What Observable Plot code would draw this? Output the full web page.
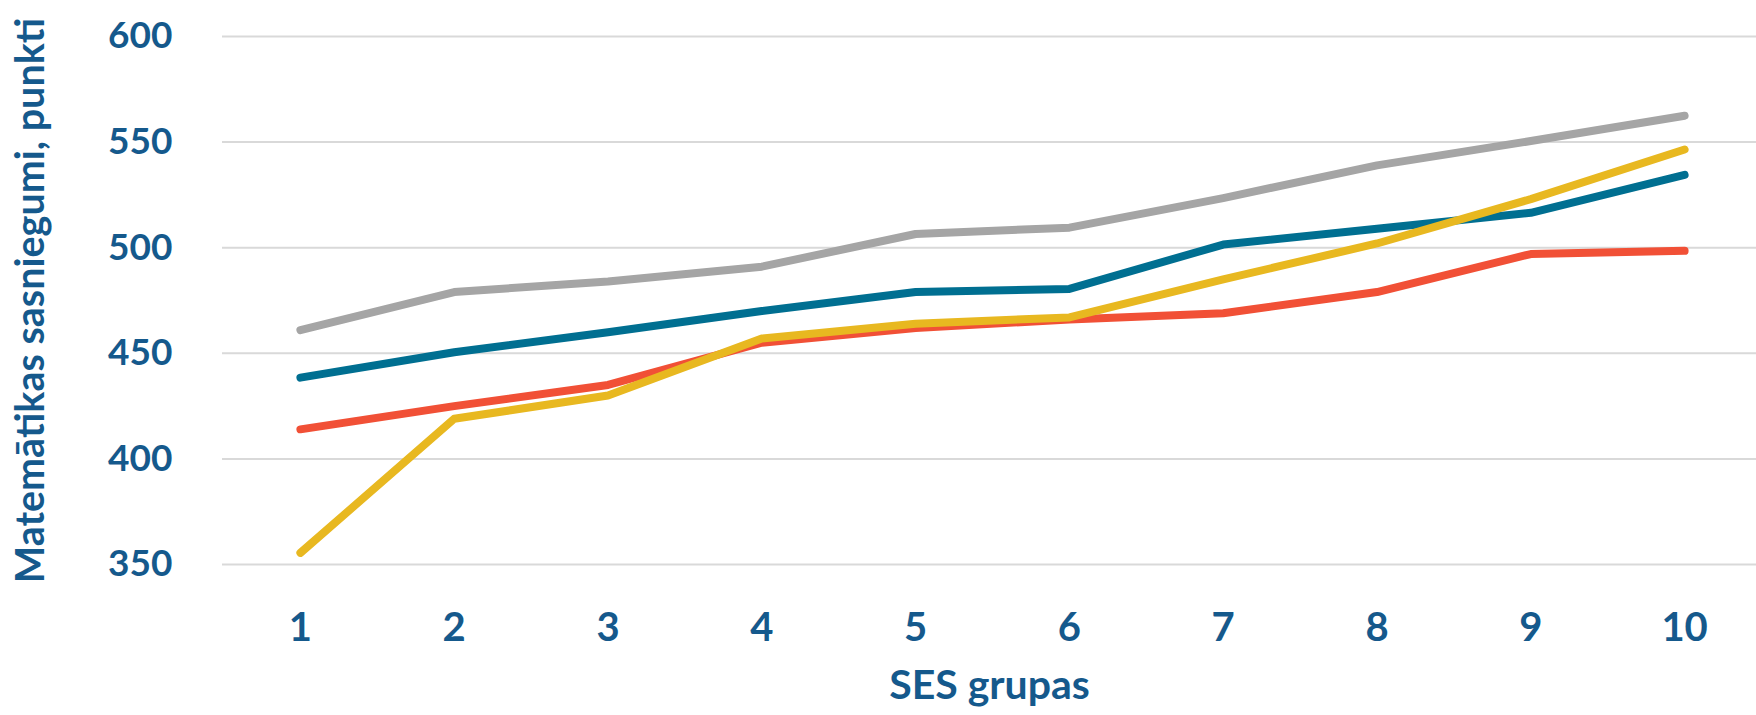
<!DOCTYPE html>
<html>
<head>
<meta charset="utf-8">
<script src="https://cdn.jsdelivr.net/npm/d3@7"></script>
<script src="https://cdn.jsdelivr.net/npm/@observablehq/plot@0.6"></script>
<style>
  html, body { margin: 0; padding: 0; background: #ffffff; }
  #chart { width: 1756px; height: 715px; overflow: hidden; }
</style>
</head>
<body>
<div id="chart"></div>
<script>
// ---- Data ----
const groups = [1, 2, 3, 4, 5, 6, 7, 8, 9, 10];
const yTicks = [350, 400, 450, 500, 550, 600];
const seriesNames = ["Sērija 1", "Sērija 2", "Sērija 3", "Sērija 4"];
const seriesColors = ["#a5a5a5", "#006f91", "#f15036", "#e8b820"];
const grayValues   = [461, 479, 484, 491, 506.5, 509.5, 523.5, 539, 550.5, 562.5];
const blueValues   = [438.5, 450.5, 460, 470, 479, 480.5, 501.5, 509, 516.5, 534.5];
const redValues    = [414, 425, 435, 455, 462, 466, 469, 479, 497, 498.5];
const yellowValues = [355.5, 419, 430, 457, 464, 467, 485, 502, 523, 546.5];
const xTitle = "SES grupas";
const yTitle = "Matemātikas sasniegumi, punkti";

const seriesValues = [grayValues, blueValues, redValues, yellowValues];
const data = seriesNames.flatMap((name, s) =>
  groups.map((g, i) => ({group: g, value: seriesValues[s][i], series: name}))
);

const textColor = "#15598c";
const font = "Lato, 'Open Sans', sans-serif";

const chart = Plot.plot({
  width: 1756,
  height: 715,
  marginLeft: 222,
  marginRight: 0,
  marginTop: 36,
  marginBottom: 151,
  style: {fontFamily: font, color: textColor, background: "#ffffff", overflow: "hidden"},
  x: {type: "point", domain: groups, range: [223, 1761], padding: 0.5, round: false},
  y: {domain: [350, 600]},
  color: {domain: seriesNames, range: seriesColors},
  marks: [
    Plot.ruleY(yTicks, {stroke: "#d9d9d9", strokeWidth: 2}),
    Plot.axisY({ticks: yTicks, tickSize: 0, tickPadding: 50, fontSize: 37, fontWeight: "bold", label: null}),
    Plot.axisY({ticks: [], tickSize: 0, fontSize: 39.5, fontWeight: "bold", label: yTitle, labelAnchor: "center", labelArrow: "none", labelOffset: 207}),
    Plot.axisX({tickSize: 0, tickPadding: 48, fontSize: 40, fontWeight: "bold", label: null}),
    Plot.axisX({ticks: [], tickSize: 0, fontSize: 41, fontWeight: "bold", label: xTitle, labelAnchor: "center", labelArrow: "none", labelOffset: 134}),
    Plot.line(data, {x: "group", y: "value", z: "series", stroke: "series", strokeWidth: 8, strokeLinecap: "round", strokeLinejoin: "round"})
  ]
});
document.getElementById("chart").appendChild(chart);
</script>
</body>
</html>
